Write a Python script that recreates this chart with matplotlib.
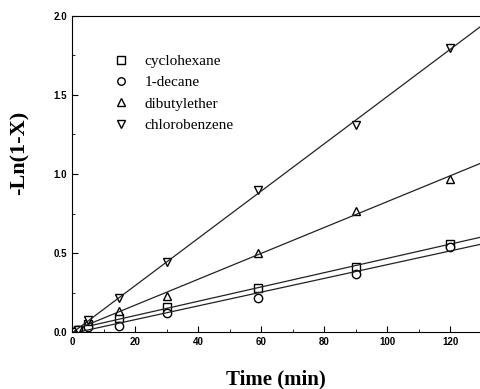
import matplotlib.pyplot as plt
import numpy as np

# reaction time (min)
time = [0, 2, 5, 15, 30, 59, 90, 120]

cyclohexane = [0.0, 0.01, 0.05, 0.09, 0.16, 0.28, 0.41, 0.56]
decane = [0.0, 0.01, 0.03, 0.04, 0.12, 0.215, 0.37, 0.54]
dibutylether = [0.0, 0.01, 0.07, 0.13, 0.23, 0.50, 0.766, 0.97]
chlorobenzene = [0.0, 0.01, 0.076, 0.215, 0.44, 0.90, 1.31, 1.80]

labels = ['cyclohexane', '1-decane', 'dibutylether', 'chlorobenzene']
markers = ['s', 'o', '^', 'v']
series = [cyclohexane, decane, dibutylether, chlorobenzene]

plt.rcParams['font.family'] = 'Liberation Serif'

fig = plt.figure(figsize=(4.8, 3.89), dpi=100)
ax = fig.add_axes([0.15, 0.1465, 0.85, 0.8124])

t_fit = np.array([0, 130])
for y, m, lab in zip(series, markers, labels):
    ax.plot(time, y, linestyle='none', marker=m, ms=6, mfc='white',
            mec='black', mew=1.0, label=lab)
    # linear fit through the measured points
    k, b = np.polyfit(time, y, 1)
    ax.plot(t_fit, k * t_fit + b, color='#222222', lw=0.9)

ax.set_xlim(0, 129.5)
ax.set_ylim(0, 2.0)
ax.set_xticks([0, 20, 40, 60, 80, 100, 120])
ax.set_xticks(range(10, 130, 20), minor=True)
ax.set_yticks([0.0, 0.5, 1.0, 1.5, 2.0])
ax.set_yticks([0.25, 0.75, 1.25, 1.75], minor=True)
ax.yaxis.set_major_formatter(plt.FormatStrFormatter('%.1f'))
ax.tick_params(which='both', direction='in', labelsize=7)
ax.tick_params(which='major', length=4)
ax.tick_params(which='minor', length=2.5)
for lbl in ax.get_xticklabels() + ax.get_yticklabels():
    lbl.set_family('Liberation Sans')
    lbl.set_fontweight('bold')
ax.spines['right'].set_visible(False)

ax.set_xlabel('Time (min)', fontsize=15, fontweight='bold')
ax.set_ylabel('-Ln(1-X)', fontsize=16, fontweight='bold')
ax.xaxis.set_label_coords(0.5, -0.12)
ax.yaxis.set_label_coords(-0.105, 0.566)

ax.legend(loc='upper left', bbox_to_anchor=(0.05, 0.922), frameon=False,
          fontsize=11, handletextpad=0.5, labelspacing=0.5, numpoints=1,
          markerscale=0.9)

plt.savefig('out.png')
